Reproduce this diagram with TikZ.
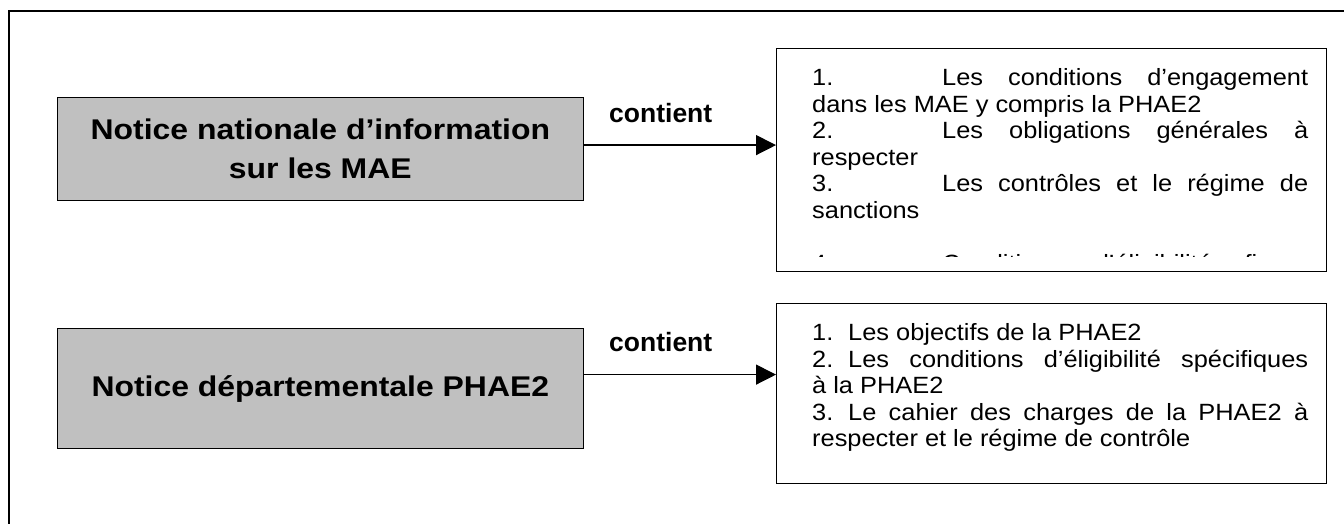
\documentclass[tikz,border=0pt]{standalone}
\usepackage{fontspec}
\setmainfont{Liberation Sans}
\newfontfamily\widefont[FakeStretch=1.12]{Liberation Sans}
\newfontfamily\listfont[FakeStretch=1.08]{Liberation Sans}
\usetikzlibrary{arrows.meta}
\definecolor{silver}{RGB}{192,192,192}
\newcommand\numtab[2]{\makebox[#1][l]{#2}}
\tikzset{
  notice/.style={draw, line width=1.2pt, fill=silver, minimum width=526.5pt, inner sep=0pt, align=center,
    font=\widefont\bfseries\fontsize{28.5}{39}\selectfont},
  listbox/.style={draw, line width=1.2pt, minimum width=550pt, inner sep=0pt},
  listtext/.style={text width=496pt, inner sep=0pt, align=justify,
    font=\listfont\fontsize{23.5}{26.5}\selectfont},
  contlabel/.style={anchor=base west, inner sep=0pt, font=\bfseries\fontsize{26.5}{30}\selectfont},
  arr/.style={line width=1.3pt, -{Triangle[length=20pt,width=20pt]}}
}
\begin{document}
\begin{tikzpicture}[x=1pt,y=-1pt]
  \useasboundingbox (0,0) rectangle (1344,524);
  % outer frame, open to the right and bottom
  \draw[line width=2pt] (1360,11) -- (8.7,11) -- (8.7,540);

  % left notices
  \node[notice, minimum height=103pt, anchor=north west] (natl) at (56.5,97) {Notice nationale d’information\\sur les MAE};
  \node[notice, minimum height=120pt, anchor=north west] (dept) at (56.5,328) {Notice départementale PHAE2};

  % right contents
  \node[listbox, minimum height=222.4pt, anchor=north west] (engage) at (776,48.3) {};
  \node[listbox, minimum height=180pt, anchor=north west] (objectifs) at (776,303) {};

  \node[listtext, anchor=base west] (engagetext) at (812,86) {\tolerance=10000\hbadness=10000\hyphenpenalty=10000
    \numtab{130pt}{1.}Les conditions d’engagement\linebreak dans les MAE y compris la PHAE2\par
    \numtab{130pt}{2.}Les obligations générales à\linebreak respecter\par
    \numtab{130pt}{3.}Les contrôles et le régime de\linebreak sanctions};
  \begin{scope}
    \clip (777,250) rectangle (1325,256.5);
    \node[listtext, anchor=base west] (suite) at (812,271.5) {\numtab{130pt}{4.}Conditions d’éligibilité financières};
  \end{scope}

  \node[listtext, anchor=base west] (objtext) at (812,340.5) {\tolerance=10000\hbadness=10000\hyphenpenalty=10000
    \numtab{36pt}{1.}Les objectifs de la PHAE2\par
    \numtab{36pt}{2.}Les conditions d’éligibilité spécifiques\linebreak à la PHAE2\par
    \numtab{36pt}{3.}Le cahier des charges de la PHAE2 à\linebreak respecter et le régime de contrôle};

  % arrows
  \coordinate (s1) at ([yshift=4pt]natl.east);
  \coordinate (s2) at ([yshift=14pt]dept.east);
  \draw[arr] (s1) -- (s1 -| engage.west);
  \draw[arr] (s2) -- (s2 -| objectifs.west);
  \node[contlabel] (c1) at (609,123) {contient};
  \node[contlabel] (c2) at (609,351) {contient};
\end{tikzpicture}
\end{document}
